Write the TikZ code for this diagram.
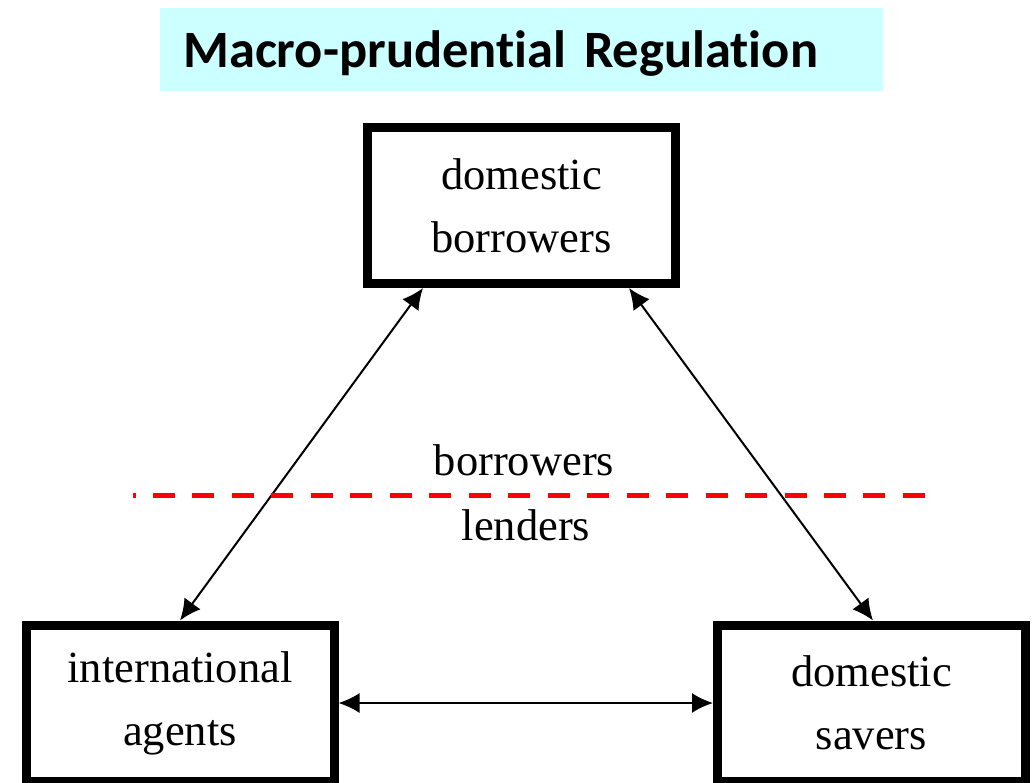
\documentclass[tikz,border=0pt]{standalone}
\usepackage{fontspec}
\setmainfont{Liberation Serif}
\newfontfamily\titlefont[RawFeature={-liga;-clig;-calt;-dlig}]{Carlito}
\usetikzlibrary{arrows.meta}
\definecolor{titlecyan}{HTML}{CCFFFF}
\begin{document}
\begin{tikzpicture}[x=1pt,y=-1pt,
  agent/.style={draw=black,line width=9pt,minimum width=308pt,minimum height=156pt,align=center,font=\fontsize{44.5}{63}\selectfont,inner sep=0pt},
  conn/.style={line width=2pt,{Latex[length=21pt,width=20pt]}-{Latex[length=21pt,width=20pt]}},
  divider/.style={red,line width=5pt,dash pattern=on 22pt off 17.47pt,dash phase=19.5pt},
  sidelabel/.style={font=\fontsize{44.5}{50}\selectfont,anchor=base}]
\useasboundingbox (0,0) rectangle (1033,783);
\clip (0,0) rectangle (1033,783);
\node[fill=titlecyan, anchor=north west, minimum height=83pt, text width=677pt, inner xsep=23pt, inner ysep=0pt, align=left, text height=40pt, text depth=5pt, font=\titlefont\bfseries\fontsize{52.5}{60}\selectfont] (title) at (160,8) {Macro-prudential Regulation};
\node[agent] (db) at (521.5,205.5) {domestic\\borrowers};
\node[agent] (ia) at (180,703) {international\\agents};
\node[agent] (ds) at (871.5,703) {domestic\\savers};
\draw[conn] ([xshift=-98.5pt]db.south) -- (ia.north);
\draw[conn] ([xshift=107.5pt]db.south) -- ([xshift=1.5pt]ds.north);
\draw[conn] (ia.east) -- (ds.west);
\coordinate (dl) at (133,495);
\coordinate (dr) at (925,495);
\draw[divider] (dl) -- (dr);
\node[sidelabel] (bl) at (524,475) {borrowers};
\node[sidelabel] (ll) at (526,540) {lenders};
\end{tikzpicture}
\end{document}
